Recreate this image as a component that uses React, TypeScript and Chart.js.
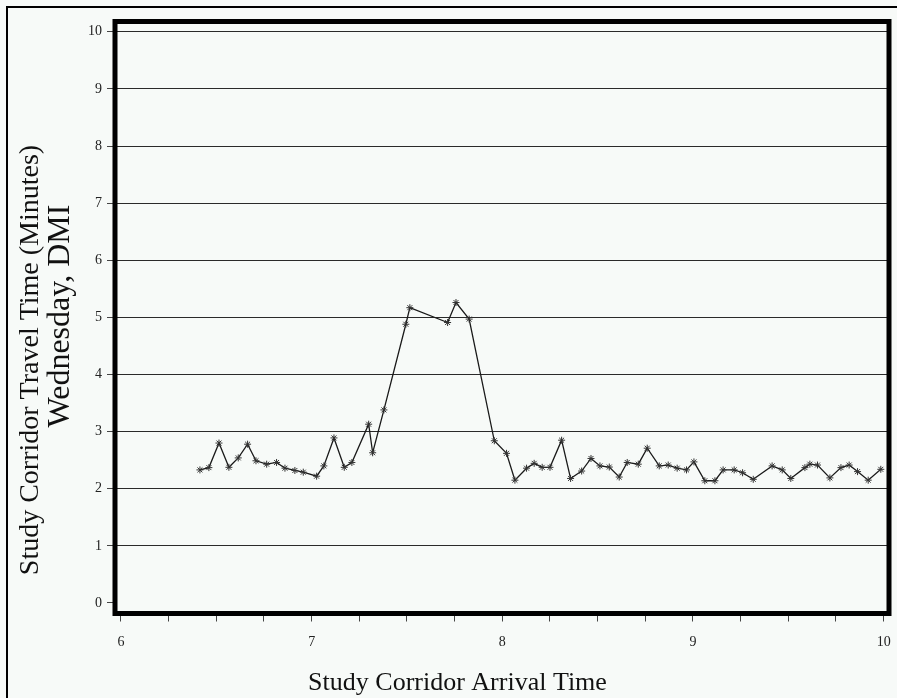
import React, { useEffect, useRef } from "react";
import { Chart, registerables } from "chart.js";

Chart.register(...registerables);

const arrivalTime = [6.414, 6.461, 6.514, 6.566, 6.615, 6.664, 6.708, 6.764, 6.816, 6.86, 6.912, 6.956, 7.026, 7.064, 7.117, 7.171, 7.211, 7.299, 7.32, 7.379, 7.494, 7.515, 7.713, 7.757, 7.826, 7.958, 8.022, 8.066, 8.127, 8.167, 8.209, 8.25, 8.311, 8.358, 8.416, 8.465, 8.512, 8.561, 8.613, 8.655, 8.713, 8.76, 8.823, 8.87, 8.917, 8.966, 9.005, 9.062, 9.115, 9.158, 9.216, 9.26, 9.316, 9.415, 9.468, 9.513, 9.587, 9.613, 9.653, 9.718, 9.776, 9.819, 9.863, 9.919, 9.985];
const travelTime = [2.33, 2.37, 2.8, 2.375, 2.54, 2.78, 2.49, 2.43, 2.46, 2.36, 2.32, 2.29, 2.22, 2.4, 2.89, 2.375, 2.46, 3.13, 2.63, 3.38, 4.88, 5.17, 4.91, 5.26, 4.97, 2.84, 2.62, 2.15, 2.36, 2.445, 2.375, 2.375, 2.85, 2.18, 2.31, 2.53, 2.4, 2.38, 2.205, 2.46, 2.43, 2.71, 2.4, 2.415, 2.36, 2.33, 2.47, 2.14, 2.14, 2.33, 2.33, 2.28, 2.165, 2.4, 2.33, 2.18, 2.37, 2.43, 2.415, 2.19, 2.37, 2.415, 2.3, 2.15, 2.34];
const xTicks = [6, 6.25, 6.5, 6.75, 7, 7.25, 7.5, 7.75, 8, 8.25, 8.5, 8.75, 9, 9.25, 9.5, 9.75, 10];
const yTicks = [0, 1, 2, 3, 4, 5, 6, 7, 8, 9, 10];
const xTitle = "Study Corridor Arrival Time";
const yTitleLines = ["Study Corridor Travel Time (Minutes)", "Wednesday, DMI"];

const BG = "#f7faf8";
const SERIF = '"Liberation Serif", "Times New Roman", serif';

const decorPlugin = {
  id: "decor",
  beforeDraw(chart: any) {
    const { ctx, width, height } = chart;
    ctx.save();
    ctx.fillStyle = BG;
    ctx.fillRect(0, 0, width, height);
    ctx.fillStyle = "#000";
    ctx.fillRect(6, 6, 2, height);
    ctx.fillRect(6, 6, width, 2);
    ctx.restore();
  },
  afterDraw(chart: any) {
    const { ctx, chartArea } = chart;
    ctx.save();
    ctx.strokeStyle = "#000";
    ctx.lineWidth = 5;
    ctx.strokeRect(chartArea.left, chartArea.top, chartArea.right - chartArea.left, chartArea.bottom - chartArea.top);
    ctx.fillStyle = "#111";
    ctx.textAlign = "center";
    ctx.textBaseline = "alphabetic";
    ctx.font = `26px ${SERIF}`;
    ctx.fillText(xTitle, 457.5, 690);
    ctx.save();
    ctx.translate(38, 360);
    ctx.rotate(-Math.PI / 2);
    ctx.font = `28px ${SERIF}`;
    ctx.fillText(yTitleLines[0], 0, 0);
    ctx.restore();
    ctx.save();
    ctx.translate(69, 316);
    ctx.rotate(-Math.PI / 2);
    ctx.font = `32px ${SERIF}`;
    ctx.fillText(yTitleLines[1], 0, 0);
    ctx.restore();
    ctx.restore();
  },
};

export default function App() {
  const ref = useRef<HTMLCanvasElement | null>(null);
  useEffect(() => {
    if (!ref.current) return;
    const chart = new Chart(ref.current, {
      type: "line",
      data: {
        datasets: [
          {
            data: arrivalTime.map((x, i) => ({ x, y: travelTime[i] })),
            borderColor: "#1a1a1a",
            borderWidth: 1.3,
            pointStyle: "star",
            pointRadius: 3.5,
            pointBorderColor: "#333",
            pointBackgroundColor: "#333",
            pointBorderWidth: 1,
            tension: 0,
            fill: false,
          },
        ],
      },
      options: {
        animation: false,
        responsive: false,
        layout: { padding: { left: 0, top: 21.5, right: 8, bottom: 0 } },
        plugins: { legend: { display: false }, tooltip: { enabled: false } },
        scales: {
          x: {
            type: "linear",
            position: "bottom",
            min: 5.9686,
            max: 10.028,
            afterBuildTicks: (s: any) => {
              s.ticks = xTicks.map((v) => ({ value: v }));
            },
            afterFit: (s: any) => {
              s.height = 84.5;
              s.paddingLeft = 0;
              s.paddingRight = 0;
            },
            ticks: {
              autoSkip: false,
              maxRotation: 0,
              padding: 12,
              color: "#222",
              font: { family: SERIF, size: 14 },
              callback: (v: any) => (Number.isInteger(Number(v)) ? String(v) : ""),
            },
            grid: { drawOnChartArea: false, drawTicks: true, tickLength: 8, tickColor: "#444" },
            border: { display: false },
          },
          y: {
            type: "linear",
            min: -0.184,
            max: 10.18,
            afterBuildTicks: (s: any) => {
              s.ticks = yTicks.map((v) => ({ value: v }));
            },
            afterFit: (s: any) => {
              s.width = 115;
              s.paddingTop = 0;
              s.paddingBottom = 0;
            },
            ticks: {
              padding: 5,
              color: "#222",
              font: { family: SERIF, size: 14 },
              callback: (v: any) => String(v),
            },
            grid: {
              color: (c: any) => (c.tick && c.tick.value === 0 ? "rgba(0,0,0,0)" : "#2a2a2a"),
              tickColor: "#444",
              lineWidth: 1,
              tickLength: 8,
            },
            border: { display: false },
          },
        },
      },
      plugins: [decorPlugin],
    });
    return () => chart.destroy();
  }, []);
  return (
    <div style={{ position: "fixed", left: 0, top: 0, width: 897, height: 698, background: BG }}>
      <canvas ref={ref} width={897} height={698} style={{ display: "block", width: 897, height: 698 }} />
    </div>
  );
}
